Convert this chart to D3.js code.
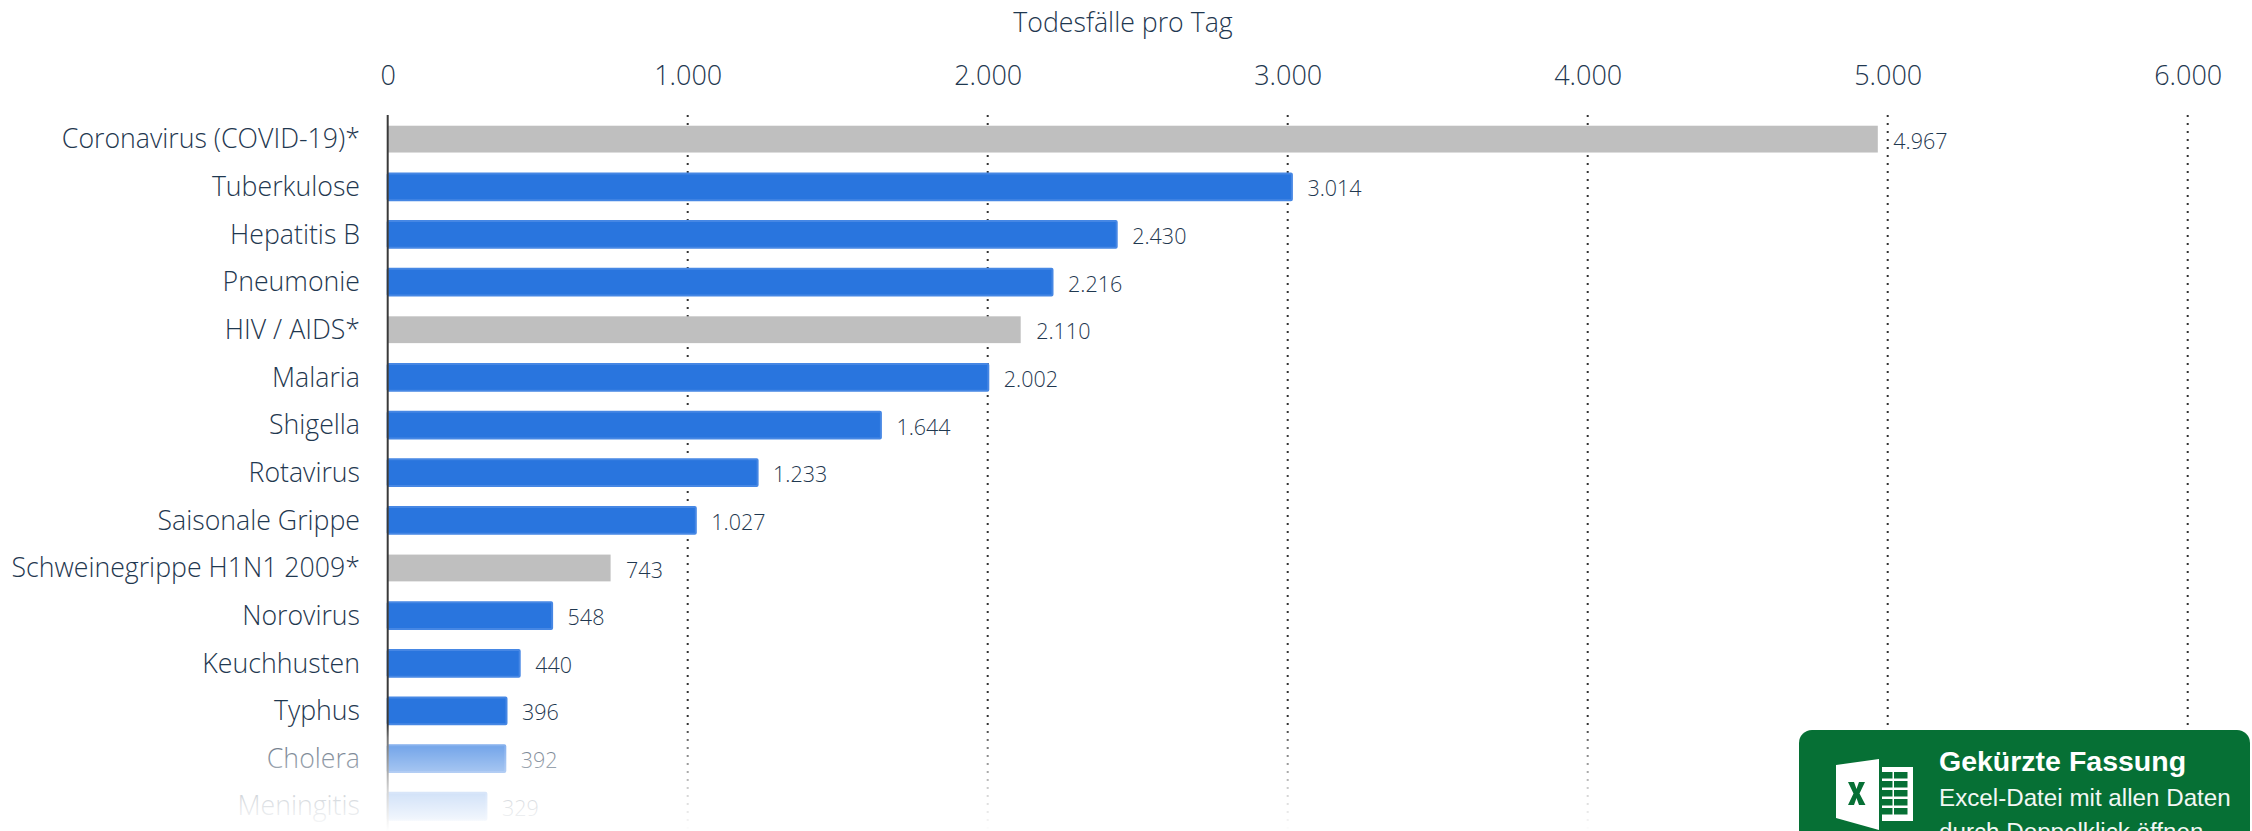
<!DOCTYPE html>
<html lang="de">
<head>
<meta charset="utf-8">
<style>
  html, body { margin: 0; padding: 0; background: #fff; overflow: hidden; }
  svg { display: block; }
  text { font-family: "Open Sans", sans-serif; font-weight: 300; }
</style>
</head>
<body>
<svg id="chart" width="2252" height="831"></svg>
<script src="https://cdnjs.cloudflare.com/ajax/libs/d3/7.8.5/d3.min.js"></script>
<script>
// Deaths per day by infectious disease
const categories = ["Coronavirus (COVID-19)*", "Tuberkulose", "Hepatitis B", "Pneumonie", "HIV / AIDS*", "Malaria", "Shigella", "Rotavirus", "Saisonale Grippe", "Schweinegrippe H1N1 2009*", "Norovirus", "Keuchhusten", "Typhus", "Cholera", "Meningitis"];
const deathsPerDay = [4967, 3014, 2430, 2216, 2110, 2002, 1644, 1233, 1027, 743, 548, 440, 396, 392, 329];
const highlighted = ["Coronavirus (COVID-19)*", "HIV / AIDS*", "Schweinegrippe H1N1 2009*"];
const xTicks = [0, 1000, 2000, 3000, 4000, 5000, 6000];
const axisTitle = "Todesfälle pro Tag";
const noteTitle = "Gekürzte Fassung";
const noteLines = ["Excel-Datei mit allen Daten", "durch Doppelklick öffnen"];

const svg = d3.select("#chart");
const de = d3.formatLocale({ decimal: ",", thousands: ".", grouping: [3], currency: ["", " €"] });
const fmt = de.format(",d");

const x = d3.scaleLinear().domain([0, 6000]).range([387.7, 2187.7]);
const rows = d3.scaleBand().domain(categories).range([115.3, 115.3 + 47.65 * categories.length]);
const rowMid = d => rows(d) + rows.bandwidth() / 2;

const ink = "#1f3850";
const gridBottom = 831;

// Dotted gridlines, behind the bars
svg.append("g").selectAll("line").data(xTicks.slice(1)).join("line")
  .attr("x1", d => x(d)).attr("x2", d => x(d))
  .attr("y1", 115).attr("y2", gridBottom)
  .attr("stroke", "#333").attr("stroke-width", 2).attr("stroke-dasharray", "2 6");

// Bars
const barH = 26.8;
svg.append("g").selectAll("rect").data(categories).join("rect")
  .attr("x", x(0))
  .attr("y", d => rowMid(d) - barH / 2)
  .attr("width", (d, i) => x(deathsPerDay[i]) - x(0))
  .attr("height", barH)
  .attr("rx", d => highlighted.includes(d) ? 0 : 1)
  .attr("fill", d => highlighted.includes(d) ? "#bfbfbf" : "#2975de")
  .attr("stroke", d => highlighted.includes(d) ? "none" : "#4687e4")
  .attr("stroke-width", 2);

// Zero line
svg.append("line")
  .attr("x1", x(0)).attr("x2", x(0)).attr("y1", 115).attr("y2", gridBottom)
  .attr("stroke", "#3a3a3a").attr("stroke-width", 2);

// Category labels
svg.append("g").selectAll("text").data(categories).join("text")
  .attr("x", 360)
  .attr("y", d => rowMid(d) + 0.7)
  .attr("dy", "0.32em")
  .attr("text-anchor", "end")
  .attr("font-size", 26.7)
  .attr("fill", ink)
  .text(d => d);

// Value labels
svg.append("g").selectAll("text").data(categories).join("text")
  .attr("x", (d, i) => x(deathsPerDay[i]) + 15.5)
  .attr("y", d => rowMid(d) + 2)
  .attr("dy", "0.35em")
  .attr("font-size", 21.5)
  .attr("fill", ink)
  .text((d, i) => fmt(deathsPerDay[i]));

// Top axis
const axis = d3.axisTop(x).tickValues(xTicks).tickFormat(fmt).tickSize(0).tickPadding(0);
const axisG = svg.append("g").attr("transform", "translate(0,85)").call(axis);
axisG.select(".domain").remove();
axisG.selectAll("text").attr("font-size", 27).attr("fill", ink).attr("font-family", null).style("font-family", '"Open Sans", sans-serif').style("font-weight", 300);

svg.append("text")
  .attr("x", 1123).attr("y", 32)
  .attr("text-anchor", "middle")
  .attr("font-size", 26.7)
  .attr("fill", ink)
  .text(axisTitle);

// Fade toward the bottom of the page
const defs = svg.append("defs");
const fade = defs.append("linearGradient").attr("id", "fade").attr("x1", 0).attr("x2", 0).attr("y1", 0).attr("y2", 1);
[[0, 0], [0.12, 0.28], [0.44, 0.58], [0.62, 0.78], [0.9, 0.94], [1, 1]].forEach(([o, a]) =>
  fade.append("stop").attr("offset", o).attr("stop-color", "#fff").attr("stop-opacity", a));
svg.append("rect").attr("x", 0).attr("y", 725).attr("width", 2252).attr("height", 106).attr("fill", "url(#fade)");

// Download note with spreadsheet icon
const noteGreen = "#067035";
const note = svg.append("g");
note.append("rect")
  .attr("x", 1799).attr("y", 730).attr("width", 451).attr("height", 140).attr("rx", 13)
  .attr("fill", noteGreen);

const icon = note.append("g");
icon.append("path").attr("fill", "#fff").attr("d", "M1836 765 L1879 759 L1879 830 L1836 818 Z");
icon.append("path").attr("fill", noteGreen)
  .attr("d", "M1848 782 H1854 L1856.5 789 L1859 782 H1865 L1859.5 793.5 L1865.5 805 H1859 L1856.5 798 L1854 805 H1848 L1853.5 793.5 Z");
icon.append("rect").attr("fill", "#fff").attr("x", 1882).attr("y", 767).attr("width", 31).attr("height", 54);
const cellRows = d3.range(5);
[[1882, 10.5], [1894, 13.5]].forEach(([cx, cw]) => {
  icon.append("g").selectAll("rect").data(cellRows).join("rect")
    .attr("x", cx).attr("y", r => 772 + r * 9).attr("width", cw).attr("height", 6.5)
    .attr("fill", noteGreen);
});

const noteFont = '"Liberation Sans", Arial, sans-serif';
note.append("text").attr("x", 1939).attr("y", 771)
  .style("font-family", noteFont).style("font-weight", 700).attr("font-size", 28.5).attr("fill", "#fff").text(noteTitle);
note.selectAll(".line").data(noteLines).join("text").attr("class", "line")
  .attr("x", 1939).attr("y", (d, i) => 806 + i * 34)
  .style("font-family", noteFont).style("font-weight", 400).attr("font-size", 24.2).attr("fill", "#f2f7f4").text(d => d);
</script>
</body>
</html>
